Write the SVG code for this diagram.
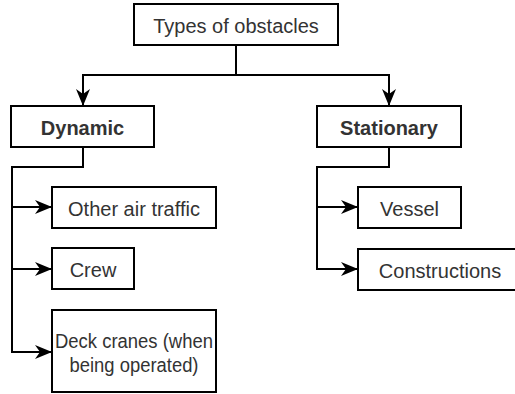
<svg xmlns="http://www.w3.org/2000/svg" width="515" height="394" viewBox="0 0 515 394">
  <style>
    .box { fill: #ffffff; stroke: #000000; stroke-width: 2; }
    .lbl { font-family: "Liberation Sans", Arial, Helvetica, sans-serif; font-size: 20px; fill: #333333; text-anchor: middle; }
    .bold { font-weight: bold; }
    .edge { fill: none; stroke: #000000; stroke-width: 2; marker-end: url(#arrow); }
  </style>
  <defs>
    <marker id="arrow" viewBox="0 0 17 14" refX="16" refY="7" markerWidth="17" markerHeight="14" markerUnits="userSpaceOnUse" orient="auto">
      <path d="M0,0 L17,7 L0,14 L5,7 Z" fill="#000000"/>
    </marker>
  </defs>
  <rect width="515" height="394" fill="#ffffff"/>

  <g id="connectors">
    <path class="edge" d="M236,45 V75 H83 V105"/>
    <path class="edge" d="M236,45 V75 H389 V105"/>
    <path class="edge" d="M83,147 V167 H12 V207 H51"/>
    <path class="edge" d="M83,147 V167 H12 V269 H51"/>
    <path class="edge" d="M83,147 V167 H12 V352 H51"/>
    <path class="edge" d="M389,147 V167 H317 V207 H357"/>
    <path class="edge" d="M389,147 V167 H317 V269 H357"/>
  </g>

  <g id="types-of-obstacles">
    <rect class="box" x="134" y="4" width="204" height="41"/>
    <text class="lbl" x="236" y="33">Types of obstacles</text>
  </g>

  <g id="dynamic">
    <rect class="box" x="11" y="106" width="143" height="41"/>
    <text class="lbl bold" x="82.5" y="135">Dynamic</text>
  </g>

  <g id="stationary">
    <rect class="box" x="317" y="106" width="144" height="41"/>
    <text class="lbl bold" x="389" y="135">Stationary</text>
  </g>

  <g id="other-air-traffic">
    <rect class="box" x="52" y="187" width="164" height="41"/>
    <text class="lbl" x="134" y="216">Other air traffic</text>
  </g>

  <g id="crew">
    <rect class="box" x="52" y="248" width="82" height="41"/>
    <text class="lbl" x="93" y="277">Crew</text>
  </g>

  <g id="deck-cranes">
    <rect class="box" x="52" y="310" width="164" height="82"/>
    <text class="lbl" x="134" y="348" textLength="158" lengthAdjust="spacingAndGlyphs">Deck cranes (when</text>
    <text class="lbl" x="134" y="372" textLength="129" lengthAdjust="spacingAndGlyphs">being operated)</text>
  </g>

  <g id="vessel">
    <rect class="box" x="358" y="187" width="103" height="41"/>
    <text class="lbl" x="409.5" y="216">Vessel</text>
  </g>

  <g id="constructions">
    <rect class="box" x="358" y="249" width="164" height="41"/>
    <text class="lbl" x="440" y="278">Constructions</text>
  </g>
</svg>
